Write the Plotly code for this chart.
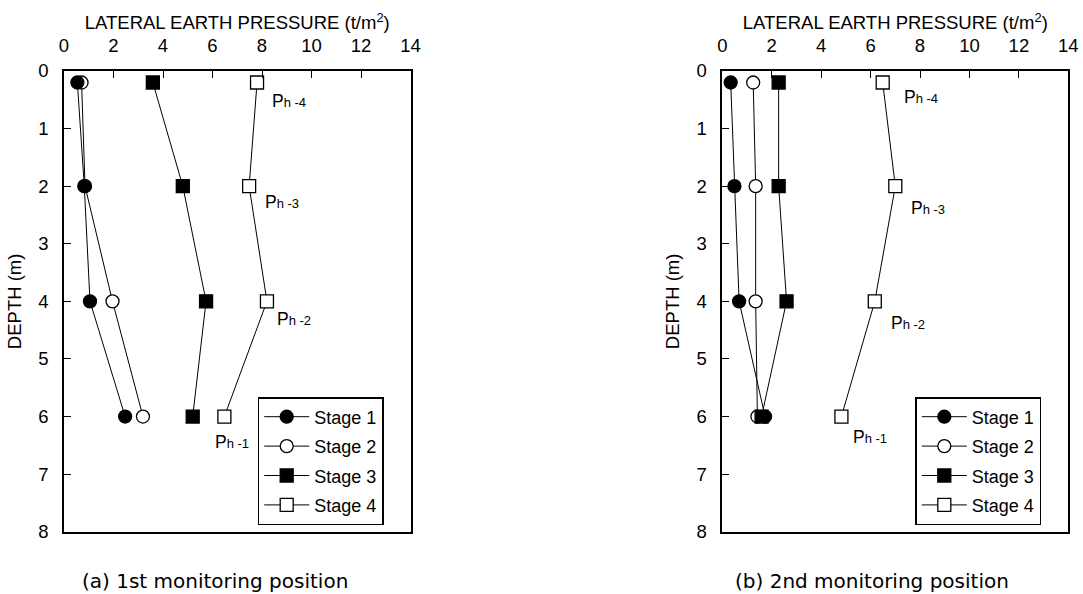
import plotly.graph_objects as go

# ---------------- data ----------------
depth = [0.2, 2, 4, 6]
stage_names = ["Stage 1", "Stage 2", "Stage 3", "Stage 4"]

# (a) 1st monitoring position
p1_stage1 = [0.54, 0.82, 1.05, 2.47]
p1_stage2 = [0.71, 0.85, 1.96, 3.19]
p1_stage3 = [3.59, 4.80, 5.74, 5.20]
p1_stage4 = [7.80, 7.48, 8.20, 6.48]

# (b) 2nd monitoring position
p2_stage1 = [0.34, 0.49, 0.68, 1.73]
p2_stage2 = [1.25, 1.35, 1.35, 1.42]
p2_stage3 = [2.28, 2.28, 2.60, 1.59]
p2_stage4 = [6.49, 7.00, 6.17, 4.82]

ph_subs = ["h -4", "h -3", "h -2", "h -1"]
x_tick_vals = [0, 2, 4, 6, 8, 10, 12, 14]
y_tick_vals = [0, 1, 2, 3, 4, 5, 6, 7, 8]
captions = ["(a) 1st monitoring position", "(b) 2nd monitoring position"]
x_title = "LATERAL EARTH PRESSURE (t/m<sup>2</sup>)"
y_title = "DEPTH (m)"

# ---------------- styles ----------------
W, H = 1083, 594
FONT = "Arial, Liberation Sans, sans-serif"
symbols = ["circle", "circle", "square", "square"]
fills = ["black", "white", "black", "white"]
draw_order = [3, 1, 2, 0]  # later drawn = on top (stage 1 on top)

def px_x(p):
    return p / W

def px_y(p):
    return 1 - p / H

fig = go.Figure()

panels = [
    dict(data=[p1_stage1, p1_stage2, p1_stage3, p1_stage4], xa="x", ya="y", legend="legend"),
    dict(data=[p2_stage1, p2_stage2, p2_stage3, p2_stage4], xa="x2", ya="y2", legend="legend2"),
]

for pi, panel in enumerate(panels):
    for si in draw_order:
        fig.add_trace(go.Scatter(
            x=panel["data"][si], y=depth,
            mode="lines+markers",
            name=stage_names[si],
            xaxis=panel["xa"], yaxis=panel["ya"],
            legend=panel["legend"],
            legendgroup=f"g{pi}{si}",
            legendrank=si + 1,
            line=dict(color="black", width=1),
            marker=dict(symbol=symbols[si], size=13, color=fills[si],
                        line=dict(color="black", width=1.3)),
            showlegend=True,
        ))

# Ph labels next to stage 4 points
ph_shift_1 = [(13, -18), (14, -16), (8, -18), (-11, -25)]
ph_shift_2 = [(19, -14), (14, -22), (14, -22), (10, -20)]
for pi, (panel, shifts) in enumerate(zip(panels, [ph_shift_1, ph_shift_2])):
    for k in range(4):
        fig.add_annotation(
            x=panel["data"][3][k], y=depth[k],
            xref=panel["xa"], yref=panel["ya"],
            text=f'P<span style="font-size:13px">{ph_subs[k]}</span>',
            showarrow=False, xanchor="left", yanchor="middle",
            xshift=shifts[k][0], yshift=shifts[k][1],
            font=dict(family=FONT, size=17.5, color="black"),
        )

# captions
cap_x = [214.5, 872.3]
for k in range(2):
    fig.add_annotation(
        x=px_x(cap_x[k]), y=px_y(581), xref="paper", yref="paper",
        text=captions[k], showarrow=False, xanchor="center", yanchor="middle",
        font=dict(family="DejaVu Sans, sans-serif", size=20, color="black"),
    )

x_domains = [[px_x(64), px_x(410.5)], [px_x(722.3), px_x(1068.3)]]
y_domain = [px_y(531.7), px_y(71)]

common_x = dict(
    range=[0, 14], tickvals=x_tick_vals, side="top",
    showline=True, mirror=True, linecolor="black", linewidth=1.6,
    ticks="inside", ticklen=7, tickwidth=1.4, tickcolor="black",
    showgrid=False, zeroline=False, automargin=False,
    tickfont=dict(family=FONT, size=18.5, color="black"),
    ticklabelstandoff=10,
    title=dict(text=x_title, font=dict(family=FONT, size=18.5, color="black"), standoff=0),
)
common_y = dict(
    range=[8, 0], tickvals=y_tick_vals,
    showline=True, mirror=True, linecolor="black", linewidth=1.6,
    ticks="inside", ticklen=7, tickwidth=1.4, tickcolor="black",
    showgrid=False, zeroline=False, automargin=False,
    tickfont=dict(family=FONT, size=18.5, color="black"),
    ticklabelstandoff=10,
    title=dict(text=y_title, font=dict(family=FONT, size=18.5, color="black"), standoff=12),
)

legend_common = dict(
    font=dict(family=FONT, size=18, color="black"),
    bgcolor="white", bordercolor="black", borderwidth=1.5,
    xanchor="left", yanchor="top", tracegroupgap=3,
    traceorder="grouped", itemwidth=45,
)

fig.update_layout(
    width=W, height=H,
    margin=dict(l=0, r=0, t=0, b=0),
    paper_bgcolor="white", plot_bgcolor="white",
    xaxis=dict(domain=x_domains[0], anchor="y", **common_x),
    yaxis=dict(domain=y_domain, anchor="x", **common_y),
    xaxis2=dict(domain=x_domains[1], anchor="y2", **common_x),
    yaxis2=dict(domain=y_domain, anchor="x2", **common_y),
    legend=dict(x=px_x(257.7), y=px_y(397), **legend_common),
    legend2=dict(x=px_x(915.3), y=px_y(397), **legend_common),
)

fig.write_html("out.html")
